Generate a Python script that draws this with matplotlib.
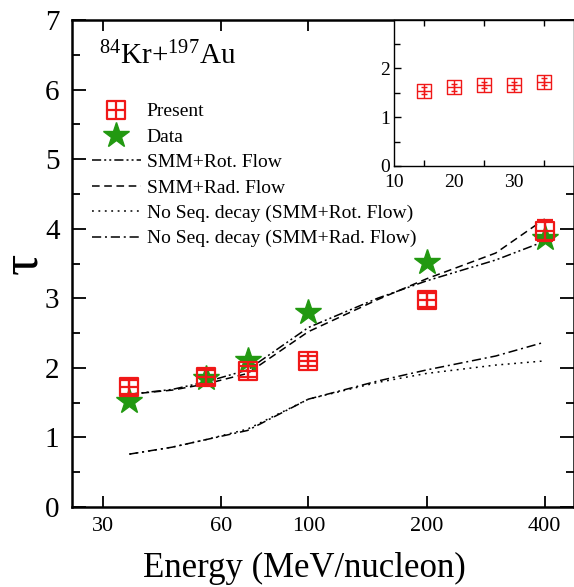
import matplotlib
matplotlib.use("Agg")
import matplotlib.pyplot as plt
import numpy as np
from matplotlib.path import Path
from matplotlib.ticker import FixedLocator, NullLocator, MultipleLocator

plt.rcParams['font.family'] = ['Liberation Serif', 'DejaVu Serif']
plt.rcParams['mathtext.fontset'] = 'custom'
plt.rcParams['mathtext.rm'] = 'Liberation Serif'
plt.rcParams['mathtext.it'] = 'Liberation Serif'

# ---- data ----
present_E = [35, 55, 70, 100, 200, 400]
present_tau = [1.72, 1.87, 1.95, 2.10, 2.98, 3.97]
present_err = [0.10, 0.10, 0.08, 0.07, 0.10, 0.15]

data_E = [35, 55, 70, 100, 200, 400]
data_tau = [1.52, 1.85, 2.12, 2.80, 3.52, 3.87]

line_E = [35, 45, 55, 70, 100, 150, 200, 300, 400]
smm_rot = [1.62, 1.69, 1.80, 1.97, 2.58, 3.00, 3.25, 3.55, 3.82]
smm_rad = [1.62, 1.68, 1.77, 1.92, 2.52, 2.98, 3.28, 3.65, 4.14]
noseq_rot = [0.76, 0.86, 0.97, 1.12, 1.55, 1.79, 1.92, 2.04, 2.10]
noseq_rad = [0.76, 0.86, 0.97, 1.10, 1.55, 1.81, 1.97, 2.17, 2.37]

inset_E = [15, 20, 25, 30, 35]
inset_tau = [1.54, 1.61, 1.65, 1.65, 1.72]
inset_err = [0.07, 0.07, 0.06, 0.07, 0.07]

xticks_main = [30, 60, 100, 200, 400]

RED = '#f01818'
GREEN = '#229911'

# square-with-cross marker
verts = [(-1, -1), (1, -1), (1, 1), (-1, 1), (-1, -1),
         (-1, 0), (1, 0), (0, -1), (0, 1)]
codes = [Path.MOVETO, Path.LINETO, Path.LINETO, Path.LINETO, Path.CLOSEPOLY,
         Path.MOVETO, Path.LINETO, Path.MOVETO, Path.LINETO]
boxcross = Path(verts, codes)

fig = plt.figure(figsize=(5.74, 5.87), dpi=100)
ax = fig.add_axes([72/574, 80/587, 502/574, 487/587])

ax.set_xscale('log')
ax.set_xlim(25, 475)
ax.set_ylim(0, 7)

lw = 1.1
h1, = ax.plot(line_E, smm_rot, color='black', lw=lw, linestyle=(0, (6, 2, 1.3, 2, 1.3, 2)),
              label='SMM+Rot. Flow')
h2, = ax.plot(line_E, smm_rad, color='black', lw=lw, linestyle=(0, (5, 3)),
              label='SMM+Rad. Flow')
h3, = ax.plot(line_E, noseq_rot, color='black', lw=lw, linestyle=(0, (1.2, 3)),
              label='No Seq. decay (SMM+Rot. Flow)')
h4, = ax.plot(line_E, noseq_rad, color='black', lw=lw, linestyle=(0, (6, 2.5, 1.3, 2.5)),
              label='No Seq. decay (SMM+Rad. Flow)')

hs, = ax.plot(data_E, data_tau, linestyle='none', marker='*', ms=19, color=GREEN,
              markeredgecolor=GREEN, label='Data', zorder=4)
ax.errorbar(present_E, present_tau, yerr=present_err, fmt='none', ecolor=RED,
            elinewidth=1.6, capsize=6, capthick=1.6, zorder=5)
hp, = ax.plot(present_E, present_tau, linestyle='none', marker=boxcross, ms=13,
              markerfacecolor='none', markeredgecolor=RED, markeredgewidth=1.6,
              label='Present', zorder=6)

ax.xaxis.set_major_locator(FixedLocator(xticks_main))
ax.xaxis.set_minor_locator(NullLocator())
ax.set_xticklabels([str(v) for v in xticks_main])
ax.yaxis.set_major_locator(MultipleLocator(1))
ax.yaxis.set_minor_locator(MultipleLocator(0.5))

ax.tick_params(axis='x', which='major', direction='in', top=True, length=8, width=1.3,
               labelsize=16, pad=7)
ax.tick_params(axis='y', which='major', direction='in', right=True, length=10, width=1.3,
               labelsize=21, pad=9)
ax.tick_params(axis='y', which='minor', direction='in', right=True, length=6, width=1.3)
for s in ax.spines.values():
    s.set_linewidth(1.8)

ax.set_xlabel('Energy (MeV/nucleon)', fontsize=25, labelpad=12)
ax.xaxis.label.set_x(0.462)
ax.set_ylabel('τ', fontsize=38, labelpad=-2)

ax.text(0.053, 0.925, r'$^{84}$Kr+$^{197}$Au', transform=ax.transAxes, fontsize=21,
        va='center', ha='left')

leg = ax.legend(handles=[hp, hs, h1, h2, h3, h4], loc='upper left',
                bbox_to_anchor=(0.04, 0.830), frameon=False, fontsize=14,
                handlelength=2.5, handletextpad=0.3, labelspacing=0.4,
                borderpad=0, borderaxespad=0, numpoints=1)

# ---- inset ----
ins = fig.add_axes([394/574, 421/587, 180/574, 146/587])
ins.set_xlim(10, 40)
ins.set_ylim(0, 2.98)
ins.errorbar(inset_E, inset_tau, yerr=inset_err, fmt='none', ecolor=RED,
             elinewidth=1.0, capsize=2, capthick=1.0)
ins.plot(inset_E, inset_tau, linestyle='none', marker=boxcross, ms=10,
         markerfacecolor='none', markeredgecolor=RED, markeredgewidth=1.0)
ins.xaxis.set_major_locator(FixedLocator([10, 20, 30]))
ins.xaxis.set_minor_locator(FixedLocator([15, 25, 35]))
ins.yaxis.set_major_locator(FixedLocator([0, 1, 2]))
ins.yaxis.set_minor_locator(FixedLocator([0.5, 1.5, 2.5]))
ins.tick_params(axis='x', which='major', direction='in', length=0, labelsize=14, pad=6)
ins.tick_params(axis='x', which='minor', direction='in', top=True, length=4, width=1)
ins.tick_params(axis='y', which='major', direction='in', length=5, width=1, labelsize=14, pad=3)
ins.tick_params(axis='y', which='minor', direction='in', length=4, width=1)
for s in ins.spines.values():
    s.set_linewidth(1.0)

fig.savefig('out.png', dpi=100)
